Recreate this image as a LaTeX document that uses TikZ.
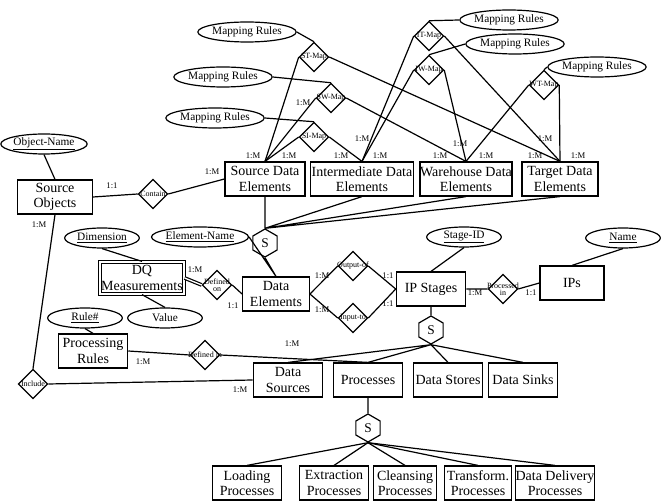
\documentclass[tikz,border=0pt]{standalone}
\usepackage{fontspec}
\setmainfont{Liberation Serif}
\usetikzlibrary{shapes.geometric}
\begin{document}
\begin{tikzpicture}[x=0.75pt,y=-0.75pt,line width=0.9pt,
 ent/.style={draw,align=center,font=\fontsize{10.5}{11.5}\selectfont,inner sep=0pt,minimum height=25.5pt},
 att/.style={draw,ellipse,inner sep=0pt,minimum height=15pt,font=\fontsize{8.5}{9}\selectfont},
 rel/.style={draw,diamond,inner sep=0pt,minimum size=22pt,
   label={[font=\fontsize{6}{6}\selectfont,align=center,inner sep=0pt]center:#1}},
 hex/.style={draw,regular polygon,regular polygon sides=6,shape border rotate=30,inner sep=0pt,minimum size=21pt,font=\fontsize{10}{11}\selectfont},
 lab/.style={font=\fontsize{6.5}{7}\selectfont,inner sep=0pt}]
\useasboundingbox (0,0) rectangle (662,502);
% entities
\node[ent,minimum width=56pt] (so) at (55,197) {Source\\Objects};
\node[ent,minimum width=60pt] (sde) at (265,179) {Source Data\\Elements};
\node[ent,minimum width=77pt] (ide) at (362,179) {Intermediate Data\\Elements};
\node[ent,minimum width=69pt] (wde) at (466,179) {Warehouse Data\\Elements};
\node[ent,minimum width=57pt] (tde) at (560,179) {Target Data\\Elements};
\node[ent,minimum width=63pt,minimum height=24pt,double,double distance=1.2pt] (dq) at (142,278) {DQ\\Measurements};
\node[ent,minimum width=50pt] (de) at (276,294) {Data\\Elements};
\node[ent,minimum width=52pt] (ip) at (431,289) {IP Stages};
\node[ent,minimum width=48pt] (ips) at (572,283) {IPs};
\node[ent,minimum width=52pt] (pr) at (93,351) {Processing\\Rules};
\node[ent,minimum width=52pt] (ds) at (288,380) {Data\\Sources};
\node[ent,minimum width=52pt] (pc) at (368,380) {Processes};
\node[ent,minimum width=52pt] (dst) at (448,380) {Data Stores};
\node[ent,minimum width=52pt] (dsk) at (523,380) {Data Sinks};
\node[ent,minimum width=52pt] (lp) at (247,483) {Loading\\Processes};
\node[ent,minimum width=52pt] (ep) at (334,483) {Extraction\\Processes};
\node[ent,minimum width=47pt] (cp) at (405,483) {Cleansing\\Processes};
\node[ent,minimum width=50pt] (tp) at (478,483) {Transform.\\Processes};
\node[ent,minimum width=57pt] (ddp) at (555,483) {Data Delivery\\Processes};
% attributes
\node[att,minimum width=56pt] (on) at (44,144) {\underline{Object-Name}};
\node[att,minimum width=54pt] (m1) at (247,32) {Mapping Rules};
\node[att,minimum width=54pt] (m2) at (223,77) {Mapping Rules};
\node[att,minimum width=54pt] (m3) at (215,118) {Mapping Rules};
\node[att,minimum width=54pt] (m4) at (509,20) {Mapping Rules};
\node[att,minimum width=54pt] (m5) at (515,44) {Mapping Rules};
\node[att,minimum width=54pt] (m6) at (597,67) {Mapping Rules};
\node[att,minimum width=56pt] (dim) at (102,238) {\underline{Dimension}};
\node[att,minimum width=56pt] (en) at (200,237) {\underline{Element-Name}};
\node[att,minimum width=56pt] (val) at (165,318) {Value};
\node[att,minimum width=56pt] (sid) at (464,237) {\underline{Stage-ID}};
\node[att,minimum width=56pt] (nm) at (623,238) {\underline{Name}};
\node[att,minimum width=56pt] (rn) at (85,318) {\underline{Rule\#}};
% relationships
\node[rel=Contain] (ct) at (153,194) {};
\node[rel=ST-Map] (st) at (314,57) {};
\node[rel=SW-Map] (sw) at (331,98) {};
\node[rel=SI-Map] (si) at (314,137) {};
\node[rel=IT-Map] (it) at (429,36) {};
\node[rel=IW-Map] (iw) at (429,70) {};
\node[rel=WT-Map] (wt) at (544,85) {};
\node[rel={Defined\\[-1pt]on}] (don) at (217,285) {};
\node[rel=Output-of] (oo) at (353,266) {};
\node[rel=Input-to] (it2) at (353,318) {};
\node[rel={Processed\\[-1pt]in}] (pin) at (503,289) {};
\node[rel=Defined in] (din) at (205,355) {};
\node[rel=Include] (inc) at (33,384) {};
% hexes
\node[hex] (s1) at (265,243) {S};
\node[hex] (s2) at (431,330) {S};
\node[hex] (s3) at (368,428) {S};
% connectors
\draw (so.north) -- (on.south);
\draw (so.east) -- (ct.west) (ct.east) -- (sde.west);
\draw (m1.east) -- (st.north) (st.west) -- (sde.north) (st.east) -- (tde.north);
\draw (m2.east) -- (sw.north) (sw.west) -- (sde.north) (sw.east) -- (wde.north);
\draw (m3.east) -- (si.north) (si.west) -- (sde.north) (si.east) -- (ide.north);
\draw (m4.west) -- (it.north) (it.west) -- (ide.north) (it.east) -- (tde.north);
\draw (m5.west) -- (iw.north) (iw.west) -- (ide.north) (iw.east) -- (wde.north);
\draw (m6.west) -- (wt.north) (wt.west) -- (wde.north) (wt.east) -- (tde.north);
\draw (s1.north) -- (sde.south) (s1.north) -- (ide.south) (s1.north) -- (wde.south) (s1.north) -- (tde.south);
\draw (s1.south) -- (de.north) (en.east) -- (de.north);
\draw (dim.south) -- (dq.north) (dq.south) -- (val.north);
\draw[double,double distance=1pt] (dq.east) -- (don.west);
\draw (don.east) -- (de.west);
\draw (de.east) -- (oo.west) (oo.east) -- (ip.west);
\draw (de.east) -- (it2.west) (it2.east) -- (ip.west);
\draw (sid.south) -- (ip.north);
\draw (ip.east) -- (pin.west) (pin.east) -- (ips.west) (nm.south) -- (ips.north);
\draw (ip.south) -- (s2.north);
\draw (s2.south) -- (ds.north) (s2.south) -- (pc.north) (s2.south) -- (dst.north) (s2.south) -- (dsk.north);
\draw (rn.south) -- (pr.north);
\draw (pr.east) -- (din.west) (din.east) -- (pc.north);
\draw (so.south) -- (inc.north) (inc.east) -- (ds.west);
\draw (pc.south) -- (s3.north);
\foreach \b in {lp,ep,cp,tp,ddp} \draw (s3.south) -- (\b.north);
% cardinalities
\node[lab] at (112,186) {1:1};
\node[lab] at (212,172) {1:M};
\node[lab] at (39,225) {1:M};
\node[lab] at (253,156) {1:M};
\node[lab] at (289,156) {1:M};
\node[lab] at (303,103) {1:M};
\node[lab] at (341,156) {1:M};
\node[lab] at (380,156) {1:M};
\node[lab] at (362,139) {1:M};
\node[lab] at (440,156) {1:M};
\node[lab] at (486,156) {1:M};
\node[lab] at (460,144) {1:M};
\node[lab] at (535,156) {1:M};
\node[lab] at (578,156) {1:M};
\node[lab] at (545,139) {1:M};
\node[lab] at (195,270) {1:M};
\node[lab] at (233,306) {1:1};
\node[lab] at (322,276) {1:M};
\node[lab] at (322,310) {1:M};
\node[lab] at (388,276) {1:1};
\node[lab] at (388,304) {1:1};
\node[lab] at (475,293) {1:M};
\node[lab] at (531,293) {1:1};
\node[lab] at (143,362) {1:M};
\node[lab] at (292,344) {1:M};
\node[lab] at (240,390) {1:M};
\end{tikzpicture}
\end{document}
